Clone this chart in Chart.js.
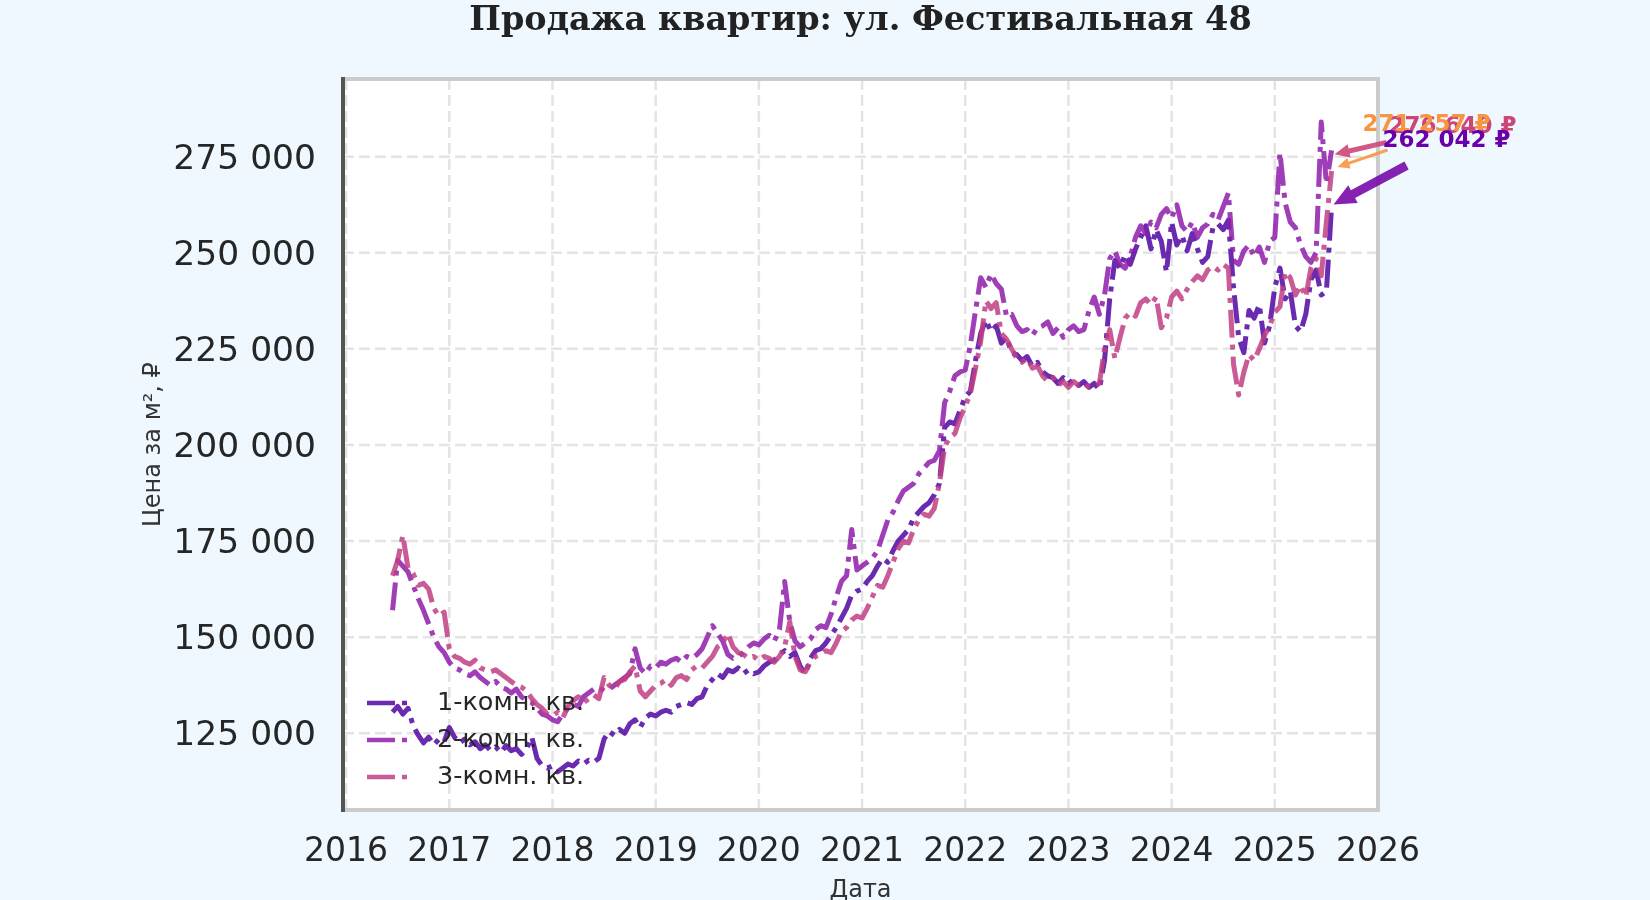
<!DOCTYPE html>
<html>
<head>
<meta charset="utf-8">
<script src="https://cdn.jsdelivr.net/npm/chart.js@4"></script>
<style>
  html, body { margin: 0; padding: 0; background: #f0f8ff; }
  canvas { display: block; }
</style>
</head>
<body>
<canvas id="chart" width="1650" height="900"></canvas>
<script>
// dates as decimal years, ~18 days apart
const dates = [
  2016.45, 2016.50, 2016.55, 2016.60, 2016.65, 2016.70, 2016.75, 2016.80, 2016.85, 2016.90, 2016.95,
  2017.00, 2017.05, 2017.10, 2017.15, 2017.20, 2017.25, 2017.30, 2017.35, 2017.40, 2017.45, 2017.50, 2017.55, 2017.60, 2017.65, 2017.70, 2017.75, 2017.80, 2017.85, 2017.90, 2017.95,
  2018.00, 2018.05, 2018.10, 2018.15, 2018.20, 2018.25, 2018.30, 2018.35, 2018.40, 2018.45, 2018.50, 2018.55, 2018.60, 2018.65, 2018.70, 2018.75, 2018.80, 2018.85, 2018.90, 2018.95,
  2019.00, 2019.05, 2019.10, 2019.15, 2019.20, 2019.25, 2019.30, 2019.35, 2019.40, 2019.45, 2019.50, 2019.55, 2019.60, 2019.65, 2019.70, 2019.75, 2019.80, 2019.85, 2019.90, 2019.95,
  2020.00, 2020.05, 2020.10, 2020.15, 2020.20, 2020.25, 2020.30, 2020.35, 2020.40, 2020.45, 2020.50, 2020.55, 2020.60, 2020.65, 2020.70, 2020.75, 2020.80, 2020.85, 2020.90, 2020.95,
  2021.00, 2021.05, 2021.10, 2021.15, 2021.20, 2021.25, 2021.30, 2021.35, 2021.40, 2021.45, 2021.50, 2021.55, 2021.60, 2021.65, 2021.70, 2021.75, 2021.80, 2021.85, 2021.90, 2021.95,
  2022.00, 2022.05, 2022.10, 2022.15, 2022.20, 2022.25, 2022.30, 2022.35, 2022.40, 2022.45, 2022.50, 2022.55, 2022.60, 2022.65, 2022.70, 2022.75, 2022.80, 2022.85, 2022.90, 2022.95,
  2023.00, 2023.05, 2023.10, 2023.15, 2023.20, 2023.25, 2023.30, 2023.35, 2023.40, 2023.45, 2023.50, 2023.55, 2023.60, 2023.65, 2023.70, 2023.75, 2023.80, 2023.85, 2023.90, 2023.95,
  2024.00, 2024.05, 2024.10, 2024.15, 2024.20, 2024.25, 2024.30, 2024.35, 2024.40, 2024.45, 2024.50, 2024.55, 2024.60, 2024.65, 2024.70, 2024.75, 2024.80, 2024.85, 2024.90, 2024.95,
  2025.00, 2025.05, 2025.10, 2025.15, 2025.20, 2025.25, 2025.30, 2025.35, 2025.40, 2025.45, 2025.50, 2025.55
];

const oneRoom = [
  130500, 132000, 130000, 131500, 127000, 124500, 122500, 124000, 122000, 123500, 122800,
  126500, 124000, 122500, 123500, 122000, 122800, 121000, 122000, 120500, 121500, 120000, 121800, 120500, 121000, 119500, 121000, 124000, 118500, 116500, 116000,
  116500, 115000, 116000, 117000, 116500, 117800, 117000, 118000, 117500, 118500, 123500, 125500, 124500, 126000, 125000, 127500, 128500, 126500, 129000, 130000,
  129500, 130500, 131000, 130500, 132000, 132500, 133000, 132500, 134000, 134500, 137500, 139000, 140500, 139500, 141500, 141000, 142000, 140500, 141500, 140500,
  141000, 142500, 143500, 144000, 145500, 146500, 145000, 146000, 142500, 140500, 144500, 146500, 147000, 148500, 150500, 152500, 155000, 157500, 161000, 162000,
  162500, 164500, 166000, 168500, 170500, 169500, 172500, 175000, 176500, 178000, 181000, 182500, 184000, 185000, 187000, 190000, 204500, 206000, 205500, 209000,
  212500, 214000, 222000, 229000, 232500, 229500, 231000, 226500, 228000, 224000, 223500, 222000, 223000, 220500, 221500, 219000, 218000, 217500, 216000, 217500,
  216000, 217000, 215500, 216500, 215000, 216000, 214500, 222000, 238000, 248000, 246000, 249500, 247000, 251000, 254000, 257000, 251000, 256000, 253000, 245000,
  258000, 252000, 254500, 250500, 255000, 251000, 247500, 249000, 256500, 257500, 256000, 258500, 241000, 228000, 224000, 235000, 233000, 236500, 226500, 231000,
  241000, 246000, 238000, 240000, 231000, 229500, 234000, 243000, 245500, 239000, 240000, 262042
];

const twoRoom = [
  157000, 170000, 168500, 167000, 163500, 160000, 157000, 153500, 150000, 147500, 146000,
  143500, 142000, 141500, 140500, 140000, 141000, 139500, 138500, 137500, 138500, 137000, 136500, 135500, 136500, 134500, 133500, 133000, 131500, 130000, 129500,
  128500, 128000, 130000, 131500, 132500, 132000, 134500, 135500, 136500, 137000, 136000, 136500, 137500, 138500, 139500, 140500, 147000, 142000, 140500, 142500,
  142000, 143500, 143000, 144000, 144500, 143500, 145000, 144500, 145500, 147000, 150000, 153000, 151000, 149000, 145500, 144500, 145000, 146000, 147500, 148500,
  148000, 149500, 150500, 149000, 152000, 164500, 154000, 149000, 147500, 148500, 149500, 152000, 153000, 152500, 156000, 160500, 164500, 166000, 178000, 167500,
  168500, 169500, 170500, 172500, 176500, 180500, 182500, 185500, 188000, 189000, 190000, 192500, 194000, 195500, 196000, 198500, 211000, 214000, 218000, 219000,
  219500, 226000, 235000, 243500, 241000, 244500, 242000, 240500, 233500, 234000, 231000, 229500, 230000, 228500, 230500, 231000, 232000, 229000, 230500, 228000,
  230000, 231000, 229500, 230000, 235000, 238500, 234000, 239000, 248500, 250500, 247000, 246000, 249000, 254000, 257000, 255000, 258000, 256500, 260000, 261500,
  259000, 262500, 257000, 255500, 258000, 254000, 256500, 257500, 260000, 258500, 262000, 265500, 248000, 247000, 250500, 252000, 249000, 251500, 247500, 253000,
  254000, 276000, 263000, 258000, 256500, 252000, 249000, 247500, 250000, 284000, 268000, 276640
];

const threeRoom = [
  166000, 170000, 176500, 168000, 166500, 163500, 164000, 162500, 157500, 155500, 156500,
  147000, 145000, 144500, 143500, 143000, 144000, 142000, 141500, 141000, 141500, 140500, 139500, 138500, 137500, 137000, 136000, 134000, 132500, 131500, 130000,
  129500, 130500, 129000, 132000, 133500, 134500, 133000, 134000, 135000, 134000, 139500, 137500, 136500, 138500, 139000, 141000, 142500, 136000, 134500, 136000,
  137500, 138000, 139000, 137500, 139500, 140000, 139000, 141500, 142500, 142000, 143500, 145000, 147500, 148500, 151000, 147500, 146000, 145500, 144500, 145000,
  144000, 145000, 144500, 143500, 145000, 147500, 154000, 145000, 141500, 141000, 143500, 145000, 145500, 146500, 146000, 148500, 151500, 152500, 154500, 155500,
  155000, 157500, 160500, 163500, 163000, 166000, 169500, 173000, 175000, 174500, 178000, 180500, 182000, 181500, 183500, 190000, 199500, 202000, 203000, 207000,
  210000, 213500, 220000, 227000, 237500, 235500, 237000, 229000, 227500, 225000, 222500, 221500, 222500, 220000, 220500, 218000, 216500, 217500, 215500, 216500,
  215000, 216500, 215500, 216000, 215000, 215500, 216000, 225000, 230000, 222500, 228000, 233000, 234500, 233500, 237000, 238000, 236500, 238500, 230500, 233000,
  238500, 240000, 238000, 240500, 242500, 244000, 243000, 245500, 246500, 245500, 247000, 246000, 221000, 213000, 219000, 223500, 222000, 225000, 228500, 231000,
  234500, 236000, 245000, 243500, 239000, 241500, 238500, 246000, 248500, 244000, 258000, 271257
];

const seriesLabels = ['1-комн. кв.', '2-комн. кв.', '3-комн. кв.'];
const yearTicks = [2016, 2017, 2018, 2019, 2020, 2021, 2022, 2023, 2024, 2025, 2026];
const priceTicks = [125000, 150000, 175000, 200000, 225000, 250000, 275000];

const palette = ['rgba(80, 6, 162, 0.85)', 'rgba(142, 28, 170, 0.85)', 'rgba(192, 62, 132, 0.85)'];
const lineDash = [28, 7, 5, 7];

function fmt(v) {
  return String(Math.round(v)).replace(/\B(?=(\d{3})+(?!\d))/g, ' ');
}

// end-of-series callouts: offsets in px from the last point
const callouts = [
  { dataset: 1, color: '#cc4778', arrow: 'rgba(204, 71, 120, 0.9)', text: [57, -23], tail: [55, -8], tip: [3, 4], w: 5, hl: 15, hw: 14 },
  { dataset: 2, color: '#f89540', arrow: 'rgba(248, 149, 64, 0.9)', text: [31, -46], tail: [56, -21], tip: [6, -4], w: 3, hl: 12, hw: 11 },
  { dataset: 0, color: '#6a00a8', arrow: 'rgba(120, 10, 170, 0.9)', text: [51, -65], tail: [75, -41], tip: [2, -2], w: 9, hl: 22, hw: 20 },
];

function drawArrow(ctx, x0, y0, x1, y1, w, hl, hw) {
  const ang = Math.atan2(y1 - y0, x1 - x0);
  const len = Math.hypot(x1 - x0, y1 - y0);
  ctx.save();
  ctx.translate(x0, y0);
  ctx.rotate(ang);
  ctx.beginPath();
  ctx.moveTo(0, -w / 2);
  ctx.lineTo(len - hl, -w / 2);
  ctx.lineTo(len - hl, -hw / 2);
  ctx.lineTo(len, 0);
  ctx.lineTo(len - hl, hw / 2);
  ctx.lineTo(len - hl, w / 2);
  ctx.lineTo(0, w / 2);
  ctx.closePath();
  ctx.fill();
  ctx.restore();
}

const decor = {
  id: 'decor',
  beforeDatasetsDraw(chart) {
    const { ctx, chartArea: a } = chart;
    const xs = chart.scales.x, ys = chart.scales.y;
    ctx.save();
    ctx.fillStyle = '#ffffff';
    ctx.fillRect(a.left, a.top, a.right - a.left, a.bottom - a.top);
    ctx.strokeStyle = '#e4e4e4';
    ctx.lineWidth = 2.5;
    ctx.setLineDash([11, 5]);
    yearTicks.forEach(v => {
      const px = xs.getPixelForValue(v);
      ctx.beginPath(); ctx.moveTo(px, a.top); ctx.lineTo(px, a.bottom); ctx.stroke();
    });
    priceTicks.forEach(v => {
      const py = ys.getPixelForValue(v);
      ctx.beginPath(); ctx.moveTo(a.left, py); ctx.lineTo(a.right, py); ctx.stroke();
    });
    ctx.restore();
  },
  afterDatasetsDraw(chart) {
    const { ctx, chartArea: a } = chart;
    ctx.save();
    // frame
    ctx.lineWidth = 4;
    ctx.strokeStyle = '#cccccc';
    ctx.beginPath();
    ctx.moveTo(a.left, a.top); ctx.lineTo(a.right, a.top); ctx.lineTo(a.right, a.bottom); ctx.lineTo(a.left, a.bottom);
    ctx.stroke();
    ctx.strokeStyle = '#555555';
    ctx.beginPath(); ctx.moveTo(a.left, a.top - 2); ctx.lineTo(a.left, a.bottom + 2); ctx.stroke();

    // legend, lower left inside the plot
    ctx.font = '25.5px "DejaVu Sans"';
    ctx.textBaseline = 'middle';
    ctx.textAlign = 'left';
    chart.data.datasets.forEach((ds, i) => {
      const y = a.bottom - 107 + i * 37;
      ctx.strokeStyle = ds.borderColor;
      ctx.lineWidth = 4.5;
      ctx.setLineDash(lineDash);
      ctx.beginPath(); ctx.moveTo(a.left + 24, y); ctx.lineTo(a.left + 66, y); ctx.stroke();
      ctx.setLineDash([]);
      ctx.fillStyle = '#262626';
      ctx.fillText(ds.label, a.left + 94, y);
    });

    // callouts
    const pts = callouts.map(c => {
      const meta = chart.getDatasetMeta(c.dataset);
      const last = meta.data[meta.data.length - 1];
      return { c, px: last.x, py: last.y, value: chart.data.datasets[c.dataset].data.slice(-1)[0].y };
    });
    pts.forEach(({ c, px, py }) => {
      ctx.fillStyle = c.arrow;
      drawArrow(ctx, px + c.tail[0], py + c.tail[1], px + c.tip[0], py + c.tip[1], c.w, c.hl, c.hw);
    });
    ctx.font = 'bold 23px "DejaVu Sans"';
    pts.forEach(({ c, px, py, value }) => {
      ctx.fillStyle = c.color;
      ctx.fillText(fmt(value) + ' ₽', px + c.text[0], py + c.text[1]);
    });

    // title
    ctx.font = 'bold 33.5px "DejaVu Serif"';
    ctx.textAlign = 'center';
    ctx.fillStyle = '#222222';
    ctx.fillText('Продажа квартир: ул. Фестивальная 48', (a.left + a.right) / 2, 21);
    ctx.restore();
  }
};

const series = [oneRoom, twoRoom, threeRoom];
const datasets = series.map((vals, i) => ({
  label: seriesLabels[i],
  data: dates.map((d, k) => ({ x: d, y: vals[k] })),
  borderColor: palette[i],
  borderWidth: 5,
  borderDash: lineDash,
  borderCapStyle: 'butt',
  borderJoinStyle: 'round',
  pointRadius: 0,
  fill: false,
  tension: 0,
  order: 3 - i,
}));

new Chart(document.getElementById('chart').getContext('2d'), {
  type: 'line',
  data: { datasets },
  options: {
    responsive: false,
    animation: false,
    devicePixelRatio: 1,
    layout: { padding: { left: 139, right: 272, top: 79, bottom: 0 } },
    plugins: { legend: { display: false }, title: { display: false }, tooltip: { enabled: false } },
    scales: {
      x: {
        type: 'linear',
        min: 2015.97,
        max: 2026,
        afterBuildTicks: s => { s.ticks = yearTicks.map(v => ({ value: v })); },
        afterFit: s => { s.height = 90; },
        grid: { display: false, drawTicks: false },
        border: { display: false },
        ticks: { font: { family: 'DejaVu Sans', size: 33 }, color: '#262626', padding: 23, maxRotation: 0, autoSkip: false, callback: v => String(v) },
        title: { display: true, text: 'Дата', font: { family: 'DejaVu Sans', size: 24 }, color: '#333333', padding: { top: 0, bottom: -5 } }
      },
      y: {
        min: 105050,
        max: 295200,
        afterBuildTicks: s => { s.ticks = priceTicks.map(v => ({ value: v })); },
        afterFit: s => { s.width = 204; },
        grid: { display: false, drawTicks: false },
        border: { display: false },
        ticks: { font: { family: 'DejaVu Sans', size: 34.5 }, color: '#262626', padding: 27, labelOffset: 3, autoSkip: false, callback: v => fmt(v) },
        title: { display: true, text: 'Цена за м², ₽', font: { family: 'DejaVu Sans', size: 24 }, color: '#333333', padding: 0 }
      }
    }
  },
  plugins: [decor]
});
</script>
</body>
</html>
